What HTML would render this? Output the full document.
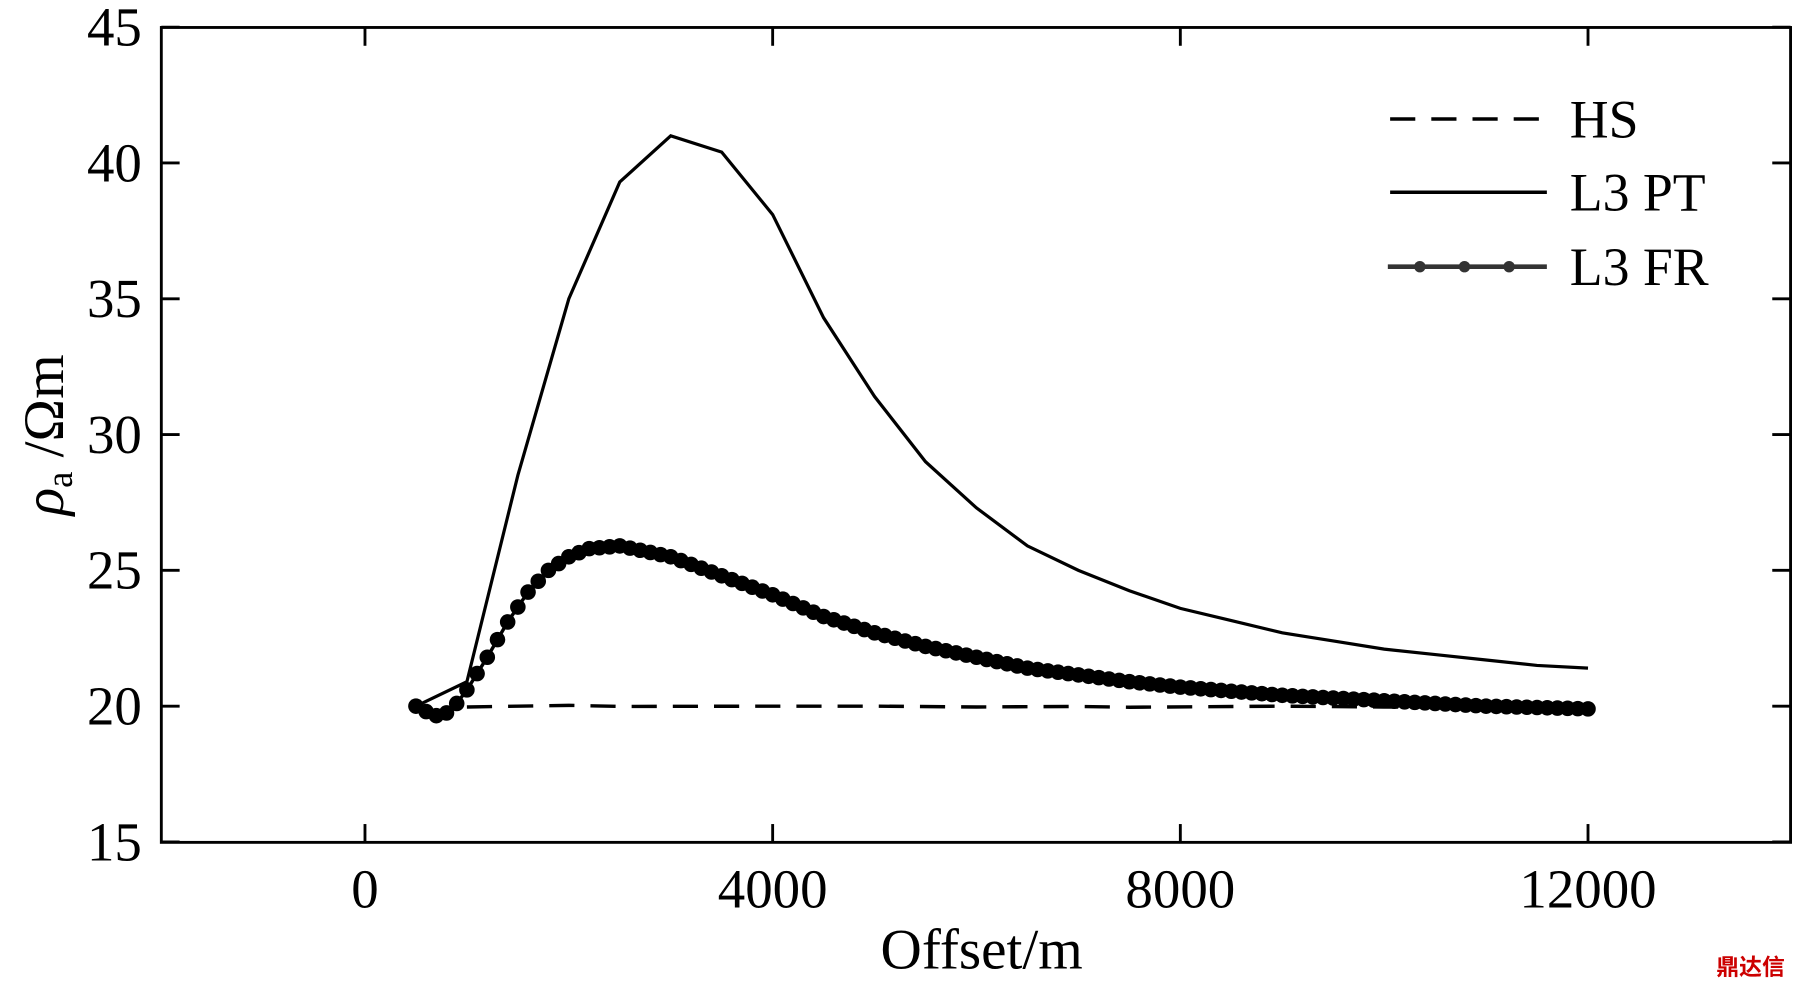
<!DOCTYPE html>
<html><head><meta charset="utf-8"><style>
html,body{margin:0;padding:0;background:#fff;overflow:hidden}
svg{display:block}
text{font-family:"Liberation Serif",serif;fill:#000}
</style></head><body>
<svg id="s" width="1794" height="990" viewBox="0 0 1568 865" preserveAspectRatio="none" xmlns="http://www.w3.org/2000/svg">
<rect x="141" y="24" width="1424" height="712" fill="none" stroke="#000" stroke-width="2.5"/>
<g id="ticks" stroke="#000" stroke-width="2.5"></g>
<g id="labels" font-size="48"></g>
<text x="858" y="846" font-size="50" text-anchor="middle">Offset/m</text>
<text transform="translate(55,380) rotate(-90)" font-size="50" text-anchor="middle"><tspan font-style="italic">ρ</tspan><tspan font-size="32" dy="8">a</tspan><tspan dy="-8"> /Ωm</tspan></text>
<g id="plot"></g>
<g>
<line x1="1215" y1="104" x2="1350" y2="104" stroke="#000" stroke-width="3" stroke-dasharray="22,14"/>
<text x="1372" y="120" font-size="47">HS</text>
<line x1="1215" y1="168" x2="1352" y2="168" stroke="#000" stroke-width="3"/>
<text x="1372" y="184" font-size="47">L3 PT</text>
<line x1="1213" y1="233" x2="1352" y2="233" stroke="#333" stroke-width="4"/>
<circle cx="1241" cy="233" r="5" fill="#333"/><circle cx="1280" cy="233" r="5" fill="#333"/><circle cx="1319" cy="233" r="5" fill="#333"/>
<text x="1372" y="249" font-size="47">L3 FR</text>
</g>
<text x="1560" y="852" font-size="20" fill="#c00" style="fill:#c00;font-family:'Noto Sans CJK SC',sans-serif" text-anchor="end" font-weight="bold">鼎达信</text>
</svg>
<script>
const X=v=>319+v*0.08908, Y=v=>617-(v-20)*23.73;
const ns="http://www.w3.org/2000/svg";
function el(p,t,a,txt){const e=document.createElementNS(ns,t);for(const k in a)e.setAttribute(k,a[k]);if(txt!=null)e.textContent=txt;p.appendChild(e);return e;}
const tk=document.getElementById('ticks'),lb=document.getElementById('labels'),pl=document.getElementById('plot');
[0,4000,8000,12000].forEach(v=>{const x=X(v);el(tk,'line',{x1:x,y1:736,x2:x,y2:720});el(tk,'line',{x1:x,y1:24,x2:x,y2:40});el(lb,'text',{x:x,y:793,'text-anchor':'middle'},v);});
[15,20,25,30,35,40,45].forEach(v=>{const y=Y(v);el(tk,'line',{x1:141,y1:y,x2:157,y2:y});el(tk,'line',{x1:1565,y1:y,x2:1549,y2:y});el(lb,'text',{x:124,y:y+16,'text-anchor':'end'},v);});
const pt=[[500,20],[1000,20.9],[1500,28.5],[2000,35],[2500,39.3],[3000,41],[3500,40.4],[4000,38.1],[4500,34.3],[5000,31.4],[5500,29],[6000,27.3],[6500,25.9],[7000,25],[7500,24.25],[8000,23.6],[8500,23.15],[9000,22.7],[9500,22.4],[10000,22.1],[10500,21.9],[11000,21.7],[11500,21.5],[12000,21.4]];
const hs=[[1000,19.97],[2000,20.03],[2500,19.99],[4000,20],[5000,20],[6000,19.97],[7000,19.99],[7500,19.96],[9000,20],[10000,19.97],[12000,19.97]];
el(pl,'polyline',{points:hs.map(p=>X(p[0])+','+Y(p[1])).join(' '),fill:'none',stroke:'#000','stroke-width':3,'stroke-dasharray':'22,14'});
el(pl,'polyline',{points:pt.map(p=>X(p[0])+','+Y(p[1])).join(' '),fill:'none',stroke:'#000','stroke-width':2.8});
const fr=[[500,20],[600,19.8],[700,19.65],[800,19.75],[900,20.1],[1000,20.6],[1200,21.8],[1400,23.1],[1600,24.2],[1800,25],[2000,25.5],[2200,25.8],[2500,25.9],[3000,25.5],[3500,24.8],[4000,24.1],[4500,23.3],[5000,22.7],[5500,22.2],[6000,21.8],[6500,21.4],[7000,21.15],[7500,20.9],[8000,20.7],[9000,20.4],[10000,20.2],[11000,20.0],[12000,19.9]];
function f(x){for(let i=0;i<fr.length-1;i++){const a=fr[i],b=fr[i+1];if(x<=b[0]){return a[1]+(b[1]-a[1])*(x-a[0])/(b[0]-a[0]);}}return fr[fr.length-1][1];}
let pts=[];for(let x=500;x<=12000;x+=100)pts.push([x,f(x)]);
el(pl,'polyline',{points:pts.map(p=>X(p[0])+','+Y(p[1])).join(' '),fill:'none',stroke:'#000','stroke-width':3});
pts.forEach(p=>el(pl,'circle',{cx:X(p[0]),cy:Y(p[1]),r:6.8,fill:'#000'}));
</script>
</body></html>
